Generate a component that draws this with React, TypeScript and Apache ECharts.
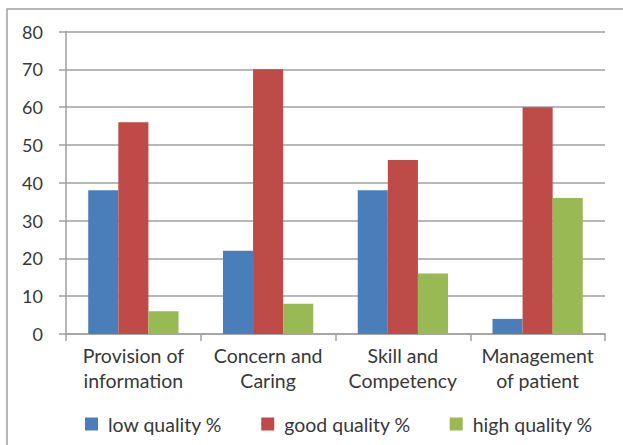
import React, { useEffect, useRef } from "react";
import * as echarts from "echarts";

const categories = ["Provision of\ninformation", "Concern and\nCaring", "Skill and\nCompetency", "Management\nof patient"];
const lowQuality = [38, 22, 38, 4];
const goodQuality = [56, 70, 46, 60];
const highQuality = [6, 8, 16, 36];
const seriesNames = ["low quality %", "good quality %", "high quality %"];
const colors = ["#4A7EBB", "#BE4B48", "#98B954"];

export default function App() {
  const ref = useRef<HTMLDivElement>(null);
  useEffect(() => {
    const chart = echarts.init(ref.current!, null, { renderer: "svg" });
    const font = "Lato, 'Open Sans', sans-serif";
    chart.setOption({
      animation: false,
      backgroundColor: "#fff",
      textStyle: { fontFamily: font },
      graphic: [
        {
          type: "rect",
          shape: { x: 7, y: 9, width: 640, height: 460 },
          style: { fill: "none", stroke: "#A0A0A0", lineWidth: 1.5 },
          silent: true,
        },
      ],
      grid: { left: 66, right: 18, top: 31.5, bottom: 111 },
      xAxis: {
        type: "category",
        data: categories,
        axisLine: { lineStyle: { color: "#A0A0A0", width: 1.5 } },
        axisTick: { show: true, length: 7, alignWithLabel: false, lineStyle: { color: "#A0A0A0", width: 1.5 } },
        axisLabel: { color: "#383838", fontSize: 19.5, fontFamily: font, lineHeight: 25, margin: 9, interval: 0 },
      },
      yAxis: {
        type: "value",
        min: 0,
        max: 80,
        interval: 10,
        axisLine: { show: true, lineStyle: { color: "#A0A0A0", width: 1.5 } },
        axisTick: { show: true, length: 7, lineStyle: { color: "#A0A0A0", width: 1.5 } },
        splitLine: { lineStyle: { color: "#A0A0A0", width: 1.5 } },
        axisLabel: { color: "#383838", fontSize: 18, fontFamily: font, margin: 23 },
      },
      legend: {
        data: seriesNames,
        left: 80,
        top: 409,
        itemWidth: 13,
        itemHeight: 13,
        itemGap: 39,
        icon: "rect",
        textStyle: { color: "#383838", fontSize: 19.5, fontFamily: font, padding: [0, 0, 0, 5] },
      },
      series: [
        { name: seriesNames[0], type: "bar", data: lowQuality, itemStyle: { color: colors[0] }, barGap: "0%", barCategoryGap: "33%" },
        { name: seriesNames[1], type: "bar", data: goodQuality, itemStyle: { color: colors[1] } },
        { name: seriesNames[2], type: "bar", data: highQuality, itemStyle: { color: colors[2] } },
      ],
    });
    return () => chart.dispose();
  }, []);
  return <div ref={ref} style={{ position: "fixed", left: 0, top: 0, width: 623, height: 445 }} />;
}
